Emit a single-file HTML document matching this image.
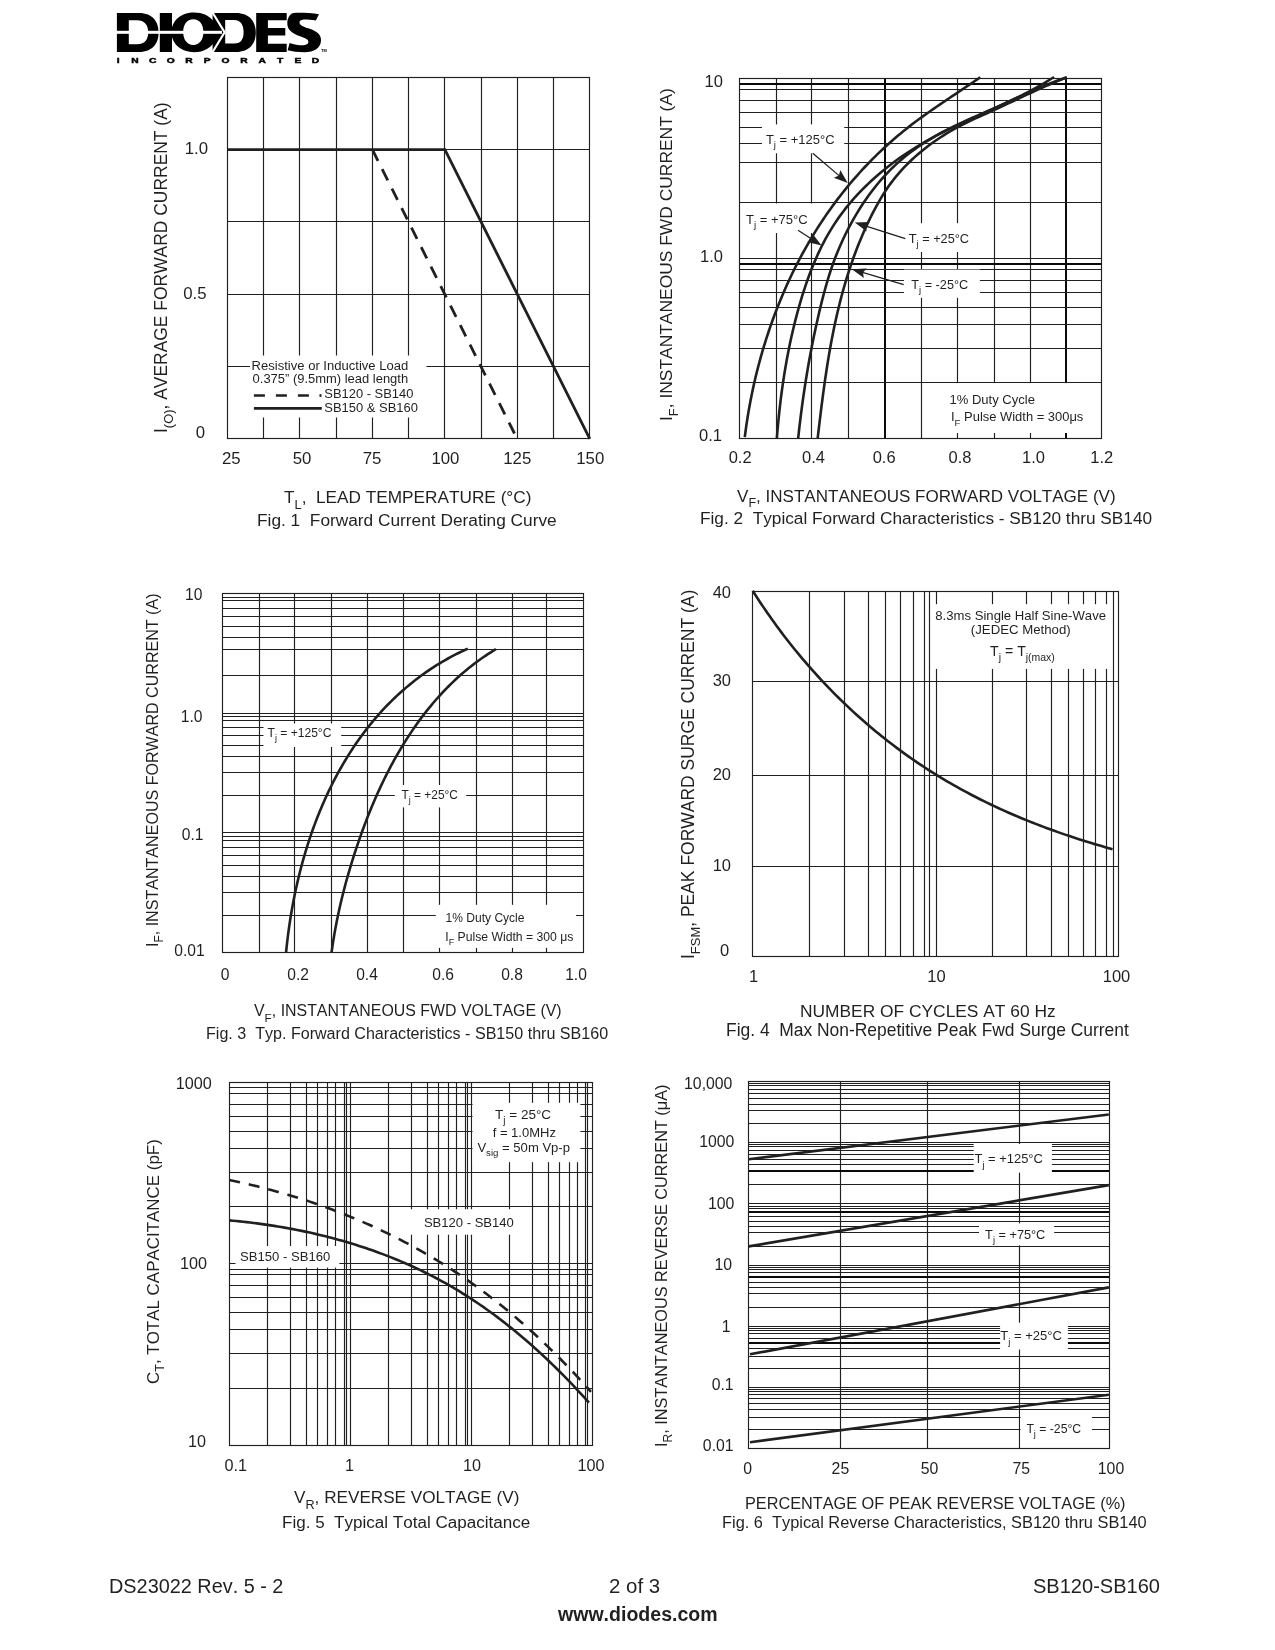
<!DOCTYPE html>
<html><head><meta charset="utf-8"><title>SB120-SB160</title>
<style>
html,body{margin:0;padding:0;background:#fff;}
body{width:1275px;height:1650px;overflow:hidden;}
svg{display:block;font-family:"Liberation Sans",sans-serif;font-kerning:none;} text{white-space:pre;} svg{filter:grayscale(1);}
</style></head><body>
<svg width="1275" height="1650" viewBox="0 0 1275 1650">
<g fill="#231f20" stroke="#231f20" stroke-linecap="butt">
<path fill="#000" fill-rule="evenodd" stroke="none" d="M116.9,13 H139 C153,13 158.6,22 158.6,32.5 C158.6,43 153,52 139,52 H116.9 Z M128.8,20.3 H137 C145.5,20.3 148.2,26 148.2,32.3 C148.2,38.8 145.5,44.3 137,44.3 H128.8 Z"/>
<rect x="159.8" y="13" width="12.2" height="39" fill="#000" stroke="none"/>
<path fill="#000" fill-rule="evenodd" stroke="none" d="M194,12.6 C182,12.6 171.5,20 171.5,32.3 C171.5,44.6 182,52.2 194,52.2 C203,52.2 208,49 212,45 L224,32.3 L212,19.5 C208,15.5 203,12.6 194,12.6 Z M193.3,19.3 C187,19.3 183.2,24.5 183.2,32.1 C183.2,39.8 187,45 193.3,45 C199.6,45 203.4,39.8 203.4,32.1 C203.4,24.5 199.6,19.3 193.3,19.3 Z"/>
<path fill="#000" fill-rule="evenodd" stroke="none" d="M212.6,13 H236 C250,13 255.8,22 255.8,32.5 C255.8,43 250,52 236,52 H212.6 Z M225.2,20 H234 C241.5,20 243.6,26 243.6,32.3 C243.6,38.6 241.5,43.6 234,43.6 H225.2 Z"/>
<path fill="#000" stroke="none" d="M256.2,13 H286.7 V20.2 H267.9 V28 H285.3 V35.6 H267.9 V43.8 H286.7 V52 H256.2 Z"/>
<path fill="#000" stroke="none" d="M294,12.9 C300,12.6 312,13 319,14.3 L315.8,20.6 C310,19.6 305,19.4 302.5,19.7 C300,20 299.2,21.5 299.6,23.2 C300.2,25.4 303,26.4 309,28.6 C317,31.5 321.2,34.5 321,40.5 C320.8,48 314,52.2 304.5,52.2 C298,52.2 292,51.4 287.6,50.2 L289.6,43 C294,44.4 299,45.4 303.5,45.3 C307,45.2 308.6,43.6 308.4,41.6 C308.2,39.4 306,38.4 300,36.2 C292.5,33.5 287.3,30.2 287.3,23.5 C287.3,17 290.5,13.1 294,12.9 Z"/>
<rect x="116" y="30.8" width="106" height="3" fill="#fff" stroke="none"/>
<path d="M212.2,12 L224.6,32.3 L212.2,52.8" fill="none" stroke="#fff" stroke-width="2.2"/>
<line x1="263.5" y1="77.4" x2="263.5" y2="438.8" stroke-width="1.15"/>
<line x1="299.5" y1="77.4" x2="299.5" y2="438.8" stroke-width="1.15"/>
<line x1="336.5" y1="77.4" x2="336.5" y2="438.8" stroke-width="1.15"/>
<line x1="372.5" y1="77.4" x2="372.5" y2="438.8" stroke-width="1.15"/>
<line x1="408.5" y1="77.4" x2="408.5" y2="438.8" stroke-width="1.15"/>
<line x1="444.5" y1="77.4" x2="444.5" y2="438.8" stroke-width="1.15"/>
<line x1="481.5" y1="77.4" x2="481.5" y2="438.8" stroke-width="1.15"/>
<line x1="517.5" y1="77.4" x2="517.5" y2="438.8" stroke-width="1.15"/>
<line x1="553.5" y1="77.4" x2="553.5" y2="438.8" stroke-width="1.15"/>
<line x1="227.5" y1="149.5" x2="589.8" y2="149.5" stroke-width="1.15"/>
<line x1="227.5" y1="221.5" x2="589.8" y2="221.5" stroke-width="1.15"/>
<line x1="227.5" y1="294.5" x2="589.8" y2="294.5" stroke-width="1.15"/>
<line x1="227.5" y1="366.5" x2="589.8" y2="366.5" stroke-width="1.15"/>
<rect x="250" y="355.5" width="176.4" height="62" fill="#fff" stroke="none"/>
<rect x="227.5" y="77.5" width="362" height="361" fill="none" stroke-width="1.15"/>
<path d="M227.5,149.7 L444.9,149.7 L589.8,438.8" fill="none" stroke-width="2.8"/>
<path d="M372.4,149.7 L514.5,433.5" fill="none" stroke-width="2.8" stroke-dasharray="12.5,9.3"/>
<path d="M253.9,395.5 L320.5,395.5" fill="none" stroke-width="2.5" stroke-dasharray="11,11"/>
<path d="M319.5,395.5 L321.5,395.5" fill="none" stroke-width="2.5"/>
<path d="M253.9,408.4 L321.8,408.4" fill="none" stroke-width="2.8"/>
<line x1="776.5" y1="78" x2="776.5" y2="438" stroke-width="1.15"/>
<line x1="811.5" y1="78" x2="811.5" y2="438" stroke-width="1.15"/>
<line x1="848.5" y1="78" x2="848.5" y2="438" stroke-width="1.15"/>
<line x1="885" y1="78" x2="885" y2="438" stroke-width="2.0" stroke="#0c0a0b"/>
<line x1="921.5" y1="78" x2="921.5" y2="438" stroke-width="1.15"/>
<line x1="957.5" y1="78" x2="957.5" y2="438" stroke-width="1.15"/>
<line x1="994.5" y1="78" x2="994.5" y2="438" stroke-width="1.15"/>
<line x1="1030.5" y1="78" x2="1030.5" y2="438" stroke-width="1.15"/>
<line x1="1066" y1="78" x2="1066" y2="438" stroke-width="2.0" stroke="#0c0a0b"/>
<line x1="739.5" y1="84" x2="1101.4" y2="84" stroke-width="1.9" stroke="#0c0a0b"/>
<line x1="739.5" y1="89.5" x2="1101.4" y2="89.5" stroke-width="1.15"/>
<line x1="739.5" y1="100.5" x2="1101.4" y2="100.5" stroke-width="1.15"/>
<line x1="739.5" y1="112.5" x2="1101.4" y2="112.5" stroke-width="1.15"/>
<line x1="739.5" y1="127.5" x2="1101.4" y2="127.5" stroke-width="1.15"/>
<line x1="739.5" y1="143.5" x2="1101.4" y2="143.5" stroke-width="1.15"/>
<line x1="739.5" y1="162.5" x2="1101.4" y2="162.5" stroke-width="1.15"/>
<line x1="739.5" y1="202.5" x2="1101.4" y2="202.5" stroke-width="1.15"/>
<line x1="739.5" y1="258.5" x2="1101.4" y2="258.5" stroke-width="1.15"/>
<line x1="739.5" y1="264" x2="1101.4" y2="264" stroke-width="1.9" stroke="#0c0a0b"/>
<line x1="739.5" y1="269.5" x2="1101.4" y2="269.5" stroke-width="1.15"/>
<line x1="739.5" y1="280.5" x2="1101.4" y2="280.5" stroke-width="1.15"/>
<line x1="739.5" y1="292.5" x2="1101.4" y2="292.5" stroke-width="1.15"/>
<line x1="739.5" y1="307.5" x2="1101.4" y2="307.5" stroke-width="1.15"/>
<line x1="739.5" y1="324.5" x2="1101.4" y2="324.5" stroke-width="1.15"/>
<line x1="739.5" y1="348.5" x2="1101.4" y2="348.5" stroke-width="1.15"/>
<line x1="739.5" y1="382.5" x2="1101.4" y2="382.5" stroke-width="1.15"/>
<rect x="762" y="124.4" width="82.2" height="28.9" fill="#fff" stroke="none"/>
<rect x="741" y="203.5" width="74" height="29.5" fill="#fff" stroke="none"/>
<rect x="912" y="223.2" width="63" height="28.8" fill="#fff" stroke="none"/>
<rect x="904" y="269.6" width="75.9" height="28.2" fill="#fff" stroke="none"/>
<rect x="925" y="383.1" width="170" height="49.9" fill="#fff" stroke="none"/>
<rect x="739.5" y="78.5" width="362" height="360" fill="none" stroke-width="1.15"/>
<path d="M744.8,437.06 L745.27,433.39 L745.76,429.71 L746.27,426.04 L746.81,422.36 L747.38,418.68 L747.97,415.01 L748.59,411.33 L749.23,407.66 L749.9,403.98 L750.6,400.31 L751.32,396.64 L752.06,392.97 L752.84,389.3 L753.64,385.64 L754.46,381.98 L755.31,378.32 L756.19,374.67 L757.09,371.02 L758.02,367.37 L758.98,363.73 L759.96,360.1 L760.96,356.47 L762,352.85 L763.06,349.23 L764.14,345.62 L765.26,342.02 L766.39,338.42 L767.56,334.83 L768.75,331.25 L769.97,327.68 L771.21,324.11 L772.48,320.56 L773.78,317.01 L775.1,313.48 L776.45,309.95 L777.83,306.43 L779.23,302.93 L780.66,299.43 L782.11,295.95 L783.59,292.48 L785.1,289.02 L786.64,285.57 L788.2,282.14 L789.79,278.72 L791.4,275.31 L793.04,271.91 L794.71,268.53 L796.41,265.17 L798.13,261.81 L799.88,258.48 L801.65,255.16 L803.46,251.85 L805.29,248.56 L807.14,245.29 L809.02,242.03 L810.93,238.79 L812.87,235.57 L814.83,232.37 L816.83,229.18 L818.84,226.01 L820.89,222.86 L822.96,219.73 L825.06,216.62 L827.18,213.53 L829.34,210.46 L831.52,207.41 L833.72,204.38 L835.96,201.37 L838.22,198.39 L840.51,195.42 L842.82,192.48 L845.17,189.56 L847.54,186.66 L849.93,183.78 L852.35,180.93 L854.8,178.1 L857.28,175.29 L859.78,172.5 L862.31,169.74 L864.86,167.01 L867.44,164.29 L870.04,161.61 L872.67,158.94 L875.33,156.3 L878.01,153.69 L880.72,151.1 L883.45,148.53 L886.21,146 L888.99,143.48 L891.8,141 L894.63,138.54 L897.48,136.1 L900.37,133.7 L903.27,131.32 L906.2,128.96 L909.15,126.64 L912.13,124.34 L915.13,122.06 L918.15,119.81 L921.19,117.59 L924.25,115.38 L927.32,113.19 L930.41,111.02 L933.5,108.87 L936.61,106.72 L939.73,104.59 L942.85,102.47 L945.98,100.36 L949.12,98.26 L952.25,96.16 L955.39,94.07 L958.53,91.97 L961.66,89.88 L964.79,87.79 L967.91,85.69 L971.02,83.59 L974.13,81.48 L977.22,79.37 L980.3,77.24" fill="none" stroke-width="2.6"/>
<path d="M776.87,438.11 L777.2,434.01 L777.55,429.9 L777.91,425.8 L778.3,421.7 L778.7,417.6 L779.13,413.5 L779.57,409.4 L780.04,405.3 L780.52,401.2 L781.03,397.1 L781.57,393.01 L782.12,388.91 L782.7,384.82 L783.3,380.74 L783.93,376.65 L784.58,372.57 L785.25,368.49 L785.96,364.42 L786.68,360.35 L787.44,356.28 L788.22,352.22 L789.02,348.16 L789.86,344.11 L790.72,340.06 L791.62,336.02 L792.54,331.98 L793.49,327.95 L794.47,323.92 L795.48,319.9 L796.52,315.89 L797.59,311.89 L798.69,307.89 L799.83,303.9 L801,299.92 L802.2,295.95 L803.45,291.99 L804.73,288.04 L806.05,284.11 L807.41,280.2 L808.81,276.3 L810.26,272.43 L811.76,268.58 L813.31,264.75 L814.91,260.94 L816.56,257.16 L818.26,253.41 L820.02,249.69 L821.83,246 L823.71,242.34 L825.64,238.72 L827.64,235.13 L829.7,231.58 L831.83,228.08 L834.02,224.61 L836.29,221.18 L838.62,217.8 L841.02,214.46 L843.49,211.17 L846.02,207.92 L848.62,204.72 L851.27,201.56 L853.99,198.45 L856.76,195.38 L859.59,192.36 L862.47,189.39 L865.4,186.46 L868.39,183.58 L871.42,180.75 L874.49,177.96 L877.61,175.23 L880.77,172.54 L883.98,169.9 L887.22,167.3 L890.49,164.76 L893.8,162.27 L897.15,159.82 L900.52,157.42 L903.93,155.07 L907.36,152.77 L910.82,150.51 L914.31,148.3 L917.83,146.13 L921.37,144 L924.93,141.91 L928.52,139.86 L932.12,137.84 L935.75,135.87 L939.4,133.92 L943.06,132.02 L946.74,130.14 L950.44,128.3 L954.15,126.49 L957.87,124.71 L961.61,122.95 L965.35,121.21 L969.11,119.49 L972.87,117.79 L976.63,116.09 L980.4,114.41 L984.17,112.73 L987.94,111.04 L991.71,109.36 L995.48,107.67 L999.24,105.97 L1003,104.26 L1006.75,102.53 L1010.48,100.78 L1014.21,99.01 L1017.93,97.22 L1021.63,95.39 L1025.32,93.53 L1028.98,91.63 L1032.63,89.69 L1036.26,87.71 L1039.87,85.68 L1043.46,83.6 L1047.02,81.46 L1050.55,79.27 L1054.05,77.01" fill="none" stroke-width="2.6"/>
<path d="M798.19,438.16 L798.63,434.08 L799.08,430 L799.55,425.91 L800.04,421.83 L800.54,417.75 L801.05,413.68 L801.58,409.6 L802.12,405.52 L802.68,401.44 L803.26,397.37 L803.85,393.3 L804.45,389.23 L805.07,385.16 L805.71,381.09 L806.37,377.02 L807.04,372.96 L807.73,368.9 L808.43,364.84 L809.15,360.79 L809.89,356.74 L810.64,352.69 L811.42,348.64 L812.21,344.6 L813.02,340.57 L813.84,336.53 L814.69,332.5 L815.55,328.47 L816.43,324.45 L817.33,320.43 L818.24,316.42 L819.18,312.41 L820.14,308.41 L821.11,304.41 L822.11,300.42 L823.13,296.43 L824.18,292.46 L825.26,288.49 L826.37,284.54 L827.52,280.6 L828.72,276.67 L829.95,272.76 L831.24,268.87 L832.57,264.99 L833.96,261.14 L835.41,257.31 L836.9,253.49 L838.46,249.7 L840.07,245.93 L841.73,242.19 L843.45,238.46 L845.22,234.76 L847.05,231.08 L848.94,227.43 L850.88,223.8 L852.88,220.19 L854.93,216.61 L857.03,213.05 L859.2,209.53 L861.42,206.04 L863.69,202.58 L866.03,199.17 L868.41,195.79 L870.86,192.46 L873.37,189.18 L875.93,185.94 L878.55,182.75 L881.22,179.62 L883.96,176.55 L886.75,173.53 L889.61,170.58 L892.52,167.69 L895.49,164.87 L898.52,162.12 L901.61,159.44 L904.75,156.84 L907.95,154.29 L911.21,151.82 L914.51,149.41 L917.86,147.06 L921.26,144.78 L924.7,142.55 L928.17,140.38 L931.69,138.27 L935.25,136.21 L938.83,134.2 L942.45,132.24 L946.1,130.32 L949.77,128.46 L953.47,126.64 L957.19,124.86 L960.93,123.11 L964.68,121.39 L968.45,119.7 L972.23,118.03 L976.01,116.37 L979.8,114.72 L983.58,113.07 L987.37,111.41 L991.15,109.75 L994.91,108.07 L998.67,106.38 L1002.42,104.67 L1006.16,102.96 L1009.9,101.23 L1013.64,99.51 L1017.37,97.78 L1021.11,96.07 L1024.84,94.36 L1028.59,92.66 L1032.33,90.99 L1036.09,89.33 L1039.86,87.7 L1043.64,86.1 L1047.44,84.54 L1051.25,83.01 L1055.09,81.52 L1058.94,80.07 L1062.82,78.68 L1066.72,77.34" fill="none" stroke-width="2.6"/>
<path d="M817.67,438.15 L818.14,434.2 L818.6,430.24 L819.07,426.27 L819.55,422.31 L820.03,418.34 L820.51,414.38 L821,410.41 L821.5,406.44 L822.01,402.47 L822.52,398.5 L823.04,394.53 L823.58,390.56 L824.13,386.59 L824.68,382.62 L825.25,378.65 L825.84,374.69 L826.43,370.73 L827.05,366.76 L827.68,362.81 L828.32,358.85 L828.98,354.9 L829.66,350.95 L830.36,347.01 L831.08,343.06 L831.82,339.13 L832.58,335.2 L833.37,331.27 L834.17,327.35 L835,323.43 L835.85,319.52 L836.73,315.62 L837.64,311.72 L838.57,307.83 L839.53,303.95 L840.51,300.07 L841.53,296.21 L842.57,292.35 L843.65,288.49 L844.75,284.65 L845.89,280.82 L847.05,277 L848.25,273.19 L849.49,269.38 L850.75,265.59 L852.05,261.81 L853.38,258.05 L854.75,254.29 L856.16,250.55 L857.6,246.82 L859.07,243.1 L860.59,239.39 L862.14,235.7 L863.73,232.03 L865.36,228.37 L867.03,224.72 L868.74,221.09 L870.49,217.48 L872.28,213.89 L874.12,210.32 L876.01,206.77 L877.96,203.27 L879.96,199.79 L882.01,196.36 L884.13,192.98 L886.31,189.64 L888.57,186.36 L890.89,183.13 L893.28,179.97 L895.75,176.86 L898.29,173.82 L900.9,170.85 L903.58,167.93 L906.34,165.08 L909.15,162.28 L912.03,159.55 L914.96,156.86 L917.95,154.24 L921,151.67 L924.09,149.16 L927.24,146.71 L930.43,144.31 L933.67,141.97 L936.95,139.7 L940.28,137.48 L943.65,135.32 L947.06,133.22 L950.5,131.18 L953.98,129.2 L957.5,127.28 L961.04,125.42 L964.62,123.61 L968.21,121.85 L971.83,120.13 L975.46,118.43 L979.11,116.76 L982.76,115.11 L986.41,113.46 L990.07,111.81 L993.72,110.16 L997.36,108.49 L1001,106.81 L1004.63,105.11 L1008.25,103.41 L1011.87,101.71 L1015.49,100 L1019.11,98.29 L1022.73,96.58 L1026.35,94.89 L1029.98,93.2 L1033.61,91.52 L1037.25,89.86 L1040.89,88.22 L1044.55,86.6 L1048.22,85 L1051.9,83.43 L1055.6,81.89 L1059.31,80.38 L1063.04,78.91 L1066.79,77.48" fill="none" stroke-width="2.6"/>
<line x1="812.8" y1="153.3" x2="839.32" y2="175.87" stroke-width="1.3"/>
<path d="M847.7,183 L833.8,177.73 L838.94,175.55 L840.28,170.12 Z" fill="#231f20" stroke="none"/>
<line x1="798" y1="230.2" x2="812.37" y2="239.52" stroke-width="1.3"/>
<path d="M821.6,245.5 L807.13,242.08 L811.95,239.24 L812.57,233.69 Z" fill="#231f20" stroke="none"/>
<line x1="905.3" y1="238.6" x2="865.28" y2="225.84" stroke-width="1.3"/>
<path d="M854.8,222.5 L869.66,221.99 L865.76,225.99 L866.62,231.52 Z" fill="#231f20" stroke="none"/>
<line x1="903.7" y1="284.7" x2="862.44" y2="272.35" stroke-width="1.3"/>
<path d="M851.9,269.2 L866.75,268.42 L862.92,272.5 L863.88,278 Z" fill="#231f20" stroke="none"/>
<line x1="259.5" y1="593.3" x2="259.5" y2="952.2" stroke-width="1.15"/>
<line x1="294.5" y1="593.3" x2="294.5" y2="952.2" stroke-width="1.15"/>
<line x1="331.5" y1="593.3" x2="331.5" y2="952.2" stroke-width="1.15"/>
<line x1="367.5" y1="593.3" x2="367.5" y2="952.2" stroke-width="1.15"/>
<line x1="403.5" y1="593.3" x2="403.5" y2="952.2" stroke-width="1.15"/>
<line x1="439.5" y1="593.3" x2="439.5" y2="952.2" stroke-width="1.15"/>
<line x1="476.5" y1="593.3" x2="476.5" y2="952.2" stroke-width="1.15"/>
<line x1="512.5" y1="593.3" x2="512.5" y2="952.2" stroke-width="1.15"/>
<line x1="546.5" y1="593.3" x2="546.5" y2="952.2" stroke-width="1.15"/>
<line x1="222.7" y1="597.5" x2="583.9" y2="597.5" stroke-width="1.15"/>
<line x1="222.7" y1="600.5" x2="583.9" y2="600.5" stroke-width="1.15"/>
<line x1="222.7" y1="608.5" x2="583.9" y2="608.5" stroke-width="1.15"/>
<line x1="222.7" y1="616.5" x2="583.9" y2="616.5" stroke-width="1.15"/>
<line x1="222.7" y1="626.5" x2="583.9" y2="626.5" stroke-width="1.15"/>
<line x1="222.7" y1="637.5" x2="583.9" y2="637.5" stroke-width="1.15"/>
<line x1="222.7" y1="649.5" x2="583.9" y2="649.5" stroke-width="1.15"/>
<line x1="222.7" y1="675.5" x2="583.9" y2="675.5" stroke-width="1.15"/>
<line x1="222.7" y1="713.5" x2="583.9" y2="713.5" stroke-width="1.15"/>
<line x1="222.7" y1="716.5" x2="583.9" y2="716.5" stroke-width="1.15"/>
<line x1="222.7" y1="720.5" x2="583.9" y2="720.5" stroke-width="1.15"/>
<line x1="222.7" y1="727.5" x2="583.9" y2="727.5" stroke-width="1.15"/>
<line x1="222.7" y1="735.5" x2="583.9" y2="735.5" stroke-width="1.15"/>
<line x1="222.7" y1="745.5" x2="583.9" y2="745.5" stroke-width="1.15"/>
<line x1="222.7" y1="756.5" x2="583.9" y2="756.5" stroke-width="1.15"/>
<line x1="222.7" y1="772.5" x2="583.9" y2="772.5" stroke-width="1.15"/>
<line x1="222.7" y1="795.5" x2="583.9" y2="795.5" stroke-width="1.15"/>
<line x1="222.7" y1="832.5" x2="583.9" y2="832.5" stroke-width="1.15"/>
<line x1="222.7" y1="836.5" x2="583.9" y2="836.5" stroke-width="1.15"/>
<line x1="222.7" y1="840.5" x2="583.9" y2="840.5" stroke-width="1.15"/>
<line x1="222.7" y1="847.5" x2="583.9" y2="847.5" stroke-width="1.15"/>
<line x1="222.7" y1="855.5" x2="583.9" y2="855.5" stroke-width="1.15"/>
<line x1="222.7" y1="865.5" x2="583.9" y2="865.5" stroke-width="1.15"/>
<line x1="222.7" y1="876.5" x2="583.9" y2="876.5" stroke-width="1.15"/>
<line x1="222.7" y1="892.5" x2="583.9" y2="892.5" stroke-width="1.15"/>
<line x1="222.7" y1="915.5" x2="583.9" y2="915.5" stroke-width="1.15"/>
<rect x="263.5" y="723.5" width="77.7" height="23.5" fill="#fff" stroke="none"/>
<rect x="394.8" y="785" width="71.4" height="22.4" fill="#fff" stroke="none"/>
<rect x="435.8" y="904.8" width="140.2" height="43.1" fill="#fff" stroke="none"/>
<rect x="222.5" y="593.5" width="361" height="359" fill="none" stroke-width="1.15"/>
<path d="M286.09,952.28 L286.39,949.25 L286.71,946.22 L287.05,943.18 L287.4,940.15 L287.77,937.1 L288.15,934.06 L288.56,931.01 L288.98,927.96 L289.42,924.9 L289.87,921.85 L290.35,918.79 L290.84,915.74 L291.35,912.68 L291.88,909.62 L292.42,906.56 L292.99,903.51 L293.57,900.45 L294.17,897.39 L294.79,894.34 L295.43,891.28 L296.09,888.23 L296.77,885.18 L297.46,882.13 L298.18,879.09 L298.91,876.04 L299.66,873.01 L300.44,869.97 L301.23,866.94 L302.04,863.91 L302.87,860.89 L303.72,857.87 L304.6,854.86 L305.49,851.86 L306.4,848.86 L307.33,845.86 L308.28,842.87 L309.25,839.89 L310.25,836.92 L311.26,833.95 L312.3,830.99 L313.35,828.04 L314.43,825.1 L315.52,822.17 L316.64,819.24 L317.78,816.33 L318.94,813.42 L320.12,810.53 L321.33,807.64 L322.55,804.77 L323.8,801.9 L325.07,799.05 L326.36,796.21 L327.67,793.38 L329,790.56 L330.36,787.76 L331.74,784.96 L333.14,782.19 L334.56,779.42 L336.01,776.67 L337.48,773.93 L338.97,771.21 L340.49,768.5 L342.02,765.81 L343.59,763.13 L345.17,760.47 L346.78,757.82 L348.41,755.19 L350.06,752.58 L351.74,749.98 L353.44,747.4 L355.17,744.84 L356.92,742.29 L358.69,739.77 L360.49,737.26 L362.31,734.77 L364.15,732.3 L366.02,729.85 L367.92,727.42 L369.84,725.01 L371.78,722.62 L373.75,720.25 L375.74,717.9 L377.76,715.57 L379.81,713.26 L381.88,710.98 L383.97,708.72 L386.09,706.48 L388.23,704.26 L390.41,702.07 L392.6,699.9 L394.82,697.75 L397.07,695.63 L399.35,693.54 L401.65,691.46 L403.97,689.42 L406.32,687.39 L408.7,685.4 L411.11,683.43 L413.54,681.48 L416,679.56 L418.48,677.67 L421,675.81 L423.54,673.98 L426.1,672.17 L428.7,670.39 L431.32,668.64 L433.96,666.92 L436.64,665.22 L439.34,663.56 L442.07,661.92 L444.83,660.32 L447.62,658.75 L450.43,657.21 L453.28,655.69 L456.15,654.21 L459.05,652.77 L461.97,651.35 L464.93,649.97 L467.91,648.61" fill="none" stroke-width="2.6"/>
<path d="M331.57,952.43 L331.98,949.47 L332.4,946.52 L332.85,943.57 L333.31,940.63 L333.79,937.68 L334.28,934.74 L334.8,931.8 L335.33,928.86 L335.87,925.93 L336.44,923 L337.02,920.07 L337.61,917.14 L338.23,914.22 L338.86,911.3 L339.5,908.38 L340.16,905.47 L340.84,902.56 L341.53,899.65 L342.24,896.75 L342.96,893.85 L343.69,890.95 L344.44,888.06 L345.21,885.17 L345.99,882.28 L346.78,879.4 L347.59,876.52 L348.42,873.65 L349.25,870.78 L350.1,867.91 L350.96,865.05 L351.84,862.19 L352.73,859.33 L353.63,856.48 L354.54,853.64 L355.47,850.8 L356.41,847.96 L357.36,845.13 L358.33,842.3 L359.3,839.48 L360.29,836.66 L361.29,833.84 L362.31,831.03 L363.34,828.23 L364.38,825.43 L365.44,822.64 L366.51,819.85 L367.59,817.07 L368.69,814.3 L369.81,811.53 L370.94,808.76 L372.08,806.01 L373.24,803.25 L374.42,800.51 L375.61,797.77 L376.82,795.04 L378.04,792.32 L379.29,789.6 L380.54,786.89 L381.82,784.18 L383.11,781.49 L384.42,778.8 L385.75,776.12 L387.1,773.45 L388.47,770.78 L389.85,768.13 L391.25,765.48 L392.67,762.85 L394.11,760.22 L395.57,757.6 L397.04,755 L398.54,752.4 L400.06,749.82 L401.59,747.25 L403.15,744.69 L404.72,742.15 L406.32,739.62 L407.93,737.1 L409.57,734.59 L411.22,732.1 L412.9,729.63 L414.6,727.17 L416.31,724.73 L418.05,722.3 L419.81,719.89 L421.59,717.5 L423.4,715.12 L425.22,712.76 L427.07,710.42 L428.94,708.1 L430.83,705.8 L432.74,703.51 L434.67,701.25 L436.63,699 L438.61,696.78 L440.62,694.58 L442.64,692.4 L444.69,690.24 L446.76,688.11 L448.86,685.99 L450.98,683.9 L453.12,681.83 L455.29,679.79 L457.48,677.77 L459.7,675.78 L461.94,673.81 L464.2,671.87 L466.49,669.95 L468.81,668.06 L471.15,666.19 L473.51,664.36 L475.9,662.55 L478.32,660.77 L480.76,659.01 L483.22,657.29 L485.72,655.59 L488.23,653.93 L490.78,652.29 L493.35,650.69 L495.95,649.11" fill="none" stroke-width="2.6"/>
<line x1="809.5" y1="591" x2="809.5" y2="956.3" stroke-width="1.15"/>
<line x1="844.5" y1="591" x2="844.5" y2="956.3" stroke-width="1.15"/>
<line x1="868.5" y1="591" x2="868.5" y2="956.3" stroke-width="1.15"/>
<line x1="885.5" y1="591" x2="885.5" y2="956.3" stroke-width="1.15"/>
<line x1="900.5" y1="591" x2="900.5" y2="956.3" stroke-width="1.15"/>
<line x1="913.5" y1="591" x2="913.5" y2="956.3" stroke-width="1.15"/>
<line x1="924.5" y1="591" x2="924.5" y2="956.3" stroke-width="1.15"/>
<line x1="929.5" y1="591" x2="929.5" y2="956.3" stroke-width="1.15"/>
<line x1="936.5" y1="591" x2="936.5" y2="956.3" stroke-width="1.15"/>
<line x1="992.5" y1="591" x2="992.5" y2="956.3" stroke-width="1.15"/>
<line x1="1026.5" y1="591" x2="1026.5" y2="956.3" stroke-width="1.15"/>
<line x1="1051.5" y1="591" x2="1051.5" y2="956.3" stroke-width="1.15"/>
<line x1="1068.5" y1="591" x2="1068.5" y2="956.3" stroke-width="1.15"/>
<line x1="1083.5" y1="591" x2="1083.5" y2="956.3" stroke-width="1.15"/>
<line x1="1095.5" y1="591" x2="1095.5" y2="956.3" stroke-width="1.15"/>
<line x1="1106.5" y1="591" x2="1106.5" y2="956.3" stroke-width="1.15"/>
<line x1="1113.5" y1="591" x2="1113.5" y2="956.3" stroke-width="1.15"/>
<line x1="752.3" y1="681.5" x2="1118.2" y2="681.5" stroke-width="1.15"/>
<line x1="752.3" y1="775.5" x2="1118.2" y2="775.5" stroke-width="1.15"/>
<line x1="752.3" y1="866.5" x2="1118.2" y2="866.5" stroke-width="1.15"/>
<rect x="933" y="604.2" width="177" height="64.7" fill="#fff" stroke="none"/>
<rect x="752.5" y="591.5" width="366" height="365" fill="none" stroke-width="1.15"/>
<path d="M752.72,590.81 L754.78,594.05 L756.86,597.28 L758.97,600.49 L761.09,603.69 L763.23,606.88 L765.39,610.05 L767.57,613.21 L769.77,616.36 L771.99,619.49 L774.22,622.6 L776.48,625.7 L778.75,628.79 L781.05,631.86 L783.36,634.91 L785.69,637.95 L788.04,640.98 L790.4,643.98 L792.79,646.98 L795.19,649.95 L797.62,652.91 L800.06,655.86 L802.52,658.79 L804.99,661.7 L807.49,664.59 L810,667.47 L812.53,670.33 L815.08,673.18 L817.65,676 L820.23,678.81 L822.83,681.6 L825.45,684.38 L828.08,687.14 L830.74,689.88 L833.41,692.6 L836.1,695.3 L838.8,697.99 L841.52,700.65 L844.26,703.3 L847.02,705.93 L849.79,708.54 L852.58,711.13 L855.39,713.7 L858.21,716.26 L861.05,718.79 L863.91,721.3 L866.78,723.8 L869.67,726.27 L872.58,728.73 L875.5,731.16 L878.44,733.58 L881.39,735.97 L884.36,738.35 L887.35,740.7 L890.35,743.03 L893.37,745.34 L896.4,747.64 L899.45,749.9 L902.51,752.15 L905.59,754.38 L908.69,756.58 L911.8,758.77 L914.93,760.93 L918.07,763.07 L921.23,765.19 L924.4,767.28 L927.59,769.36 L930.79,771.41 L934.01,773.43 L937.24,775.44 L940.49,777.42 L943.75,779.38 L947.02,781.32 L950.31,783.23 L953.62,785.12 L956.93,786.99 L960.26,788.84 L963.61,790.67 L966.96,792.47 L970.33,794.25 L973.71,796.01 L977.11,797.75 L980.51,799.47 L983.93,801.16 L987.35,802.84 L990.79,804.49 L994.24,806.13 L997.7,807.74 L1001.17,809.33 L1004.65,810.9 L1008.15,812.46 L1011.65,813.99 L1015.15,815.5 L1018.67,816.99 L1022.2,818.46 L1025.74,819.91 L1029.28,821.34 L1032.83,822.76 L1036.4,824.15 L1039.96,825.53 L1043.54,826.88 L1047.12,828.22 L1050.71,829.53 L1054.31,830.83 L1057.91,832.11 L1061.52,833.38 L1065.13,834.62 L1068.76,835.84 L1072.38,837.05 L1076.01,838.24 L1079.65,839.41 L1083.29,840.57 L1086.94,841.7 L1090.58,842.82 L1094.24,843.92 L1097.9,845.01 L1101.56,846.08 L1105.22,847.13 L1108.89,848.16 L1112.56,849.18" fill="none" stroke-width="2.6"/>
<line x1="267.5" y1="1082" x2="267.5" y2="1445.5" stroke-width="1.15"/>
<line x1="290.5" y1="1082" x2="290.5" y2="1445.5" stroke-width="1.15"/>
<line x1="306.5" y1="1082" x2="306.5" y2="1445.5" stroke-width="1.15"/>
<line x1="317.5" y1="1082" x2="317.5" y2="1445.5" stroke-width="1.15"/>
<line x1="327.5" y1="1082" x2="327.5" y2="1445.5" stroke-width="1.15"/>
<line x1="335.5" y1="1082" x2="335.5" y2="1445.5" stroke-width="1.15"/>
<line x1="344.5" y1="1082" x2="344.5" y2="1445.5" stroke-width="1.15"/>
<line x1="346.5" y1="1082" x2="346.5" y2="1445.5" stroke-width="1.15"/>
<line x1="350.5" y1="1082" x2="350.5" y2="1445.5" stroke-width="1.15"/>
<line x1="388.5" y1="1082" x2="388.5" y2="1445.5" stroke-width="1.15"/>
<line x1="411.5" y1="1082" x2="411.5" y2="1445.5" stroke-width="1.15"/>
<line x1="427.5" y1="1082" x2="427.5" y2="1445.5" stroke-width="1.15"/>
<line x1="438.5" y1="1082" x2="438.5" y2="1445.5" stroke-width="1.15"/>
<line x1="448.5" y1="1082" x2="448.5" y2="1445.5" stroke-width="1.15"/>
<line x1="456.5" y1="1082" x2="456.5" y2="1445.5" stroke-width="1.15"/>
<line x1="465.5" y1="1082" x2="465.5" y2="1445.5" stroke-width="1.15"/>
<line x1="467.5" y1="1082" x2="467.5" y2="1445.5" stroke-width="1.15"/>
<line x1="471.5" y1="1082" x2="471.5" y2="1445.5" stroke-width="1.15"/>
<line x1="509.5" y1="1082" x2="509.5" y2="1445.5" stroke-width="1.15"/>
<line x1="532.5" y1="1082" x2="532.5" y2="1445.5" stroke-width="1.15"/>
<line x1="548.5" y1="1082" x2="548.5" y2="1445.5" stroke-width="1.15"/>
<line x1="559.5" y1="1082" x2="559.5" y2="1445.5" stroke-width="1.15"/>
<line x1="569.5" y1="1082" x2="569.5" y2="1445.5" stroke-width="1.15"/>
<line x1="577.5" y1="1082" x2="577.5" y2="1445.5" stroke-width="1.15"/>
<line x1="585.5" y1="1082" x2="585.5" y2="1445.5" stroke-width="1.15"/>
<line x1="587.5" y1="1082" x2="587.5" y2="1445.5" stroke-width="1.15"/>
<line x1="229.4" y1="1087.5" x2="592.4" y2="1087.5" stroke-width="1.15"/>
<line x1="229.4" y1="1093.5" x2="592.4" y2="1093.5" stroke-width="1.15"/>
<line x1="229.4" y1="1104.5" x2="592.4" y2="1104.5" stroke-width="1.15"/>
<line x1="229.4" y1="1116.5" x2="592.4" y2="1116.5" stroke-width="1.15"/>
<line x1="229.4" y1="1131.5" x2="592.4" y2="1131.5" stroke-width="1.15"/>
<line x1="229.4" y1="1148.5" x2="592.4" y2="1148.5" stroke-width="1.15"/>
<line x1="229.4" y1="1172.5" x2="592.4" y2="1172.5" stroke-width="1.15"/>
<line x1="229.4" y1="1206.5" x2="592.4" y2="1206.5" stroke-width="1.15"/>
<line x1="229.4" y1="1263.5" x2="592.4" y2="1263.5" stroke-width="1.15"/>
<line x1="229.4" y1="1269.5" x2="592.4" y2="1269.5" stroke-width="1.15"/>
<line x1="229.4" y1="1274.5" x2="592.4" y2="1274.5" stroke-width="1.15"/>
<line x1="229.4" y1="1285.5" x2="592.4" y2="1285.5" stroke-width="1.15"/>
<line x1="229.4" y1="1297.5" x2="592.4" y2="1297.5" stroke-width="1.15"/>
<line x1="229.4" y1="1312.5" x2="592.4" y2="1312.5" stroke-width="1.15"/>
<line x1="229.4" y1="1329.5" x2="592.4" y2="1329.5" stroke-width="1.15"/>
<line x1="229.4" y1="1353.5" x2="592.4" y2="1353.5" stroke-width="1.15"/>
<line x1="229.4" y1="1388.5" x2="592.4" y2="1388.5" stroke-width="1.15"/>
<rect x="472.5" y="1102.8" width="107.9" height="59.4" fill="#fff" stroke="none"/>
<rect x="409" y="1209.2" width="106.3" height="25.5" fill="#fff" stroke="none"/>
<rect x="235.5" y="1246" width="103.8" height="21.6" fill="#fff" stroke="none"/>
<rect x="229.5" y="1082.5" width="363" height="363" fill="none" stroke-width="1.15"/>
<path d="M229.31,1220.41 L232.77,1220.72 L236.24,1221.05 L239.7,1221.39 L243.16,1221.76 L246.62,1222.14 L250.08,1222.54 L253.54,1222.96 L256.99,1223.4 L260.45,1223.86 L263.9,1224.34 L267.36,1224.84 L270.81,1225.35 L274.25,1225.89 L277.7,1226.45 L281.14,1227.02 L284.58,1227.62 L288.02,1228.23 L291.45,1228.87 L294.88,1229.52 L298.3,1230.2 L301.72,1230.89 L305.14,1231.61 L308.55,1232.34 L311.96,1233.1 L315.37,1233.88 L318.76,1234.67 L322.16,1235.49 L325.54,1236.33 L328.92,1237.19 L332.3,1238.07 L335.67,1238.98 L339.03,1239.9 L342.39,1240.85 L345.74,1241.81 L349.08,1242.8 L352.42,1243.81 L355.74,1244.85 L359.06,1245.9 L362.38,1246.97 L365.68,1248.07 L368.98,1249.19 L372.27,1250.33 L375.54,1251.5 L378.81,1252.69 L382.08,1253.9 L385.33,1255.13 L388.57,1256.38 L391.8,1257.66 L395.02,1258.96 L398.24,1260.28 L401.44,1261.63 L404.63,1263 L407.81,1264.39 L410.98,1265.81 L414.14,1267.25 L417.28,1268.71 L420.42,1270.2 L423.54,1271.71 L426.65,1273.24 L429.75,1274.8 L432.84,1276.38 L435.91,1277.99 L438.97,1279.62 L442.02,1281.27 L445.05,1282.95 L448.07,1284.66 L451.08,1286.39 L454.07,1288.14 L457.05,1289.92 L460.02,1291.72 L462.97,1293.54 L465.91,1295.39 L468.83,1297.26 L471.74,1299.15 L474.64,1301.06 L477.52,1303 L480.39,1304.96 L483.25,1306.94 L486.09,1308.94 L488.92,1310.96 L491.73,1313 L494.53,1315.06 L497.32,1317.14 L500.1,1319.24 L502.86,1321.36 L505.61,1323.5 L508.34,1325.66 L511.06,1327.83 L513.77,1330.03 L516.47,1332.24 L519.15,1334.46 L521.82,1336.71 L524.47,1338.97 L527.11,1341.25 L529.74,1343.54 L532.36,1345.85 L534.96,1348.18 L537.55,1350.52 L540.13,1352.87 L542.69,1355.24 L545.24,1357.63 L547.78,1360.02 L550.3,1362.44 L552.81,1364.86 L555.31,1367.3 L557.8,1369.75 L560.27,1372.21 L562.73,1374.69 L565.17,1377.17 L567.61,1379.67 L570.03,1382.18 L572.44,1384.7 L574.83,1387.23 L577.21,1389.77 L579.58,1392.32 L581.94,1394.89 L584.28,1397.46 L586.62,1400.03 L588.94,1402.62" fill="none" stroke-width="2.6"/>
<path d="M229.22,1180.01 L232.74,1180.74 L236.25,1181.49 L239.77,1182.25 L243.27,1183.04 L246.78,1183.84 L250.28,1184.66 L253.77,1185.5 L257.27,1186.36 L260.75,1187.23 L264.24,1188.13 L267.71,1189.04 L271.19,1189.97 L274.65,1190.91 L278.12,1191.88 L281.57,1192.86 L285.03,1193.86 L288.47,1194.88 L291.91,1195.92 L295.35,1196.98 L298.78,1198.05 L302.2,1199.14 L305.62,1200.25 L309.03,1201.38 L312.43,1202.53 L315.83,1203.69 L319.22,1204.87 L322.61,1206.08 L325.99,1207.3 L329.36,1208.53 L332.72,1209.79 L336.08,1211.06 L339.43,1212.35 L342.77,1213.67 L346.11,1214.99 L349.43,1216.34 L352.75,1217.71 L356.06,1219.09 L359.37,1220.49 L362.66,1221.91 L365.95,1223.35 L369.22,1224.81 L372.49,1226.28 L375.75,1227.78 L379.01,1229.29 L382.25,1230.82 L385.48,1232.37 L388.71,1233.93 L391.92,1235.52 L395.13,1237.12 L398.32,1238.74 L401.51,1240.39 L404.69,1242.04 L407.85,1243.72 L411.01,1245.42 L414.16,1247.13 L417.29,1248.86 L420.42,1250.62 L423.53,1252.39 L426.64,1254.17 L429.73,1255.98 L432.81,1257.8 L435.89,1259.65 L438.95,1261.51 L441.99,1263.39 L445.03,1265.29 L448.06,1267.21 L451.07,1269.14 L454.08,1271.1 L457.07,1273.07 L460.04,1275.06 L463.01,1277.07 L465.97,1279.1 L468.91,1281.15 L471.84,1283.22 L474.75,1285.3 L477.66,1287.4 L480.55,1289.52 L483.44,1291.65 L486.3,1293.8 L489.16,1295.97 L492.01,1298.16 L494.84,1300.36 L497.66,1302.58 L500.47,1304.81 L503.26,1307.06 L506.04,1309.33 L508.82,1311.61 L511.57,1313.91 L514.32,1316.22 L517.05,1318.55 L519.78,1320.89 L522.49,1323.25 L525.18,1325.62 L527.87,1328.01 L530.54,1330.41 L533.2,1332.82 L535.85,1335.25 L538.48,1337.69 L541.11,1340.15 L543.72,1342.61 L546.32,1345.1 L548.9,1347.59 L551.47,1350.1 L554.04,1352.62 L556.58,1355.15 L559.12,1357.69 L561.64,1360.25 L564.15,1362.82 L566.65,1365.39 L569.14,1367.99 L571.61,1370.59 L574.07,1373.2 L576.52,1375.82 L578.96,1378.46 L581.38,1381.1 L583.79,1383.76 L586.19,1386.42 L588.58,1389.1 L590.95,1391.79" fill="none" stroke-width="2.6" stroke-dasharray="11,9"/>
<line x1="840.5" y1="1081" x2="840.5" y2="1448.3" stroke-width="1.15"/>
<line x1="927.5" y1="1081" x2="927.5" y2="1448.3" stroke-width="1.15"/>
<line x1="1019.5" y1="1081" x2="1019.5" y2="1448.3" stroke-width="1.15"/>
<line x1="748.8" y1="1083.5" x2="1109.5" y2="1083.5" stroke-width="1.15"/>
<line x1="748.8" y1="1085.5" x2="1109.5" y2="1085.5" stroke-width="1.15"/>
<line x1="748.8" y1="1089.5" x2="1109.5" y2="1089.5" stroke-width="1.15"/>
<line x1="748.8" y1="1093.5" x2="1109.5" y2="1093.5" stroke-width="1.15"/>
<line x1="748.8" y1="1098.5" x2="1109.5" y2="1098.5" stroke-width="1.15"/>
<line x1="748.8" y1="1104.5" x2="1109.5" y2="1104.5" stroke-width="1.15"/>
<line x1="748.8" y1="1110.5" x2="1109.5" y2="1110.5" stroke-width="1.15"/>
<line x1="748.8" y1="1123.5" x2="1109.5" y2="1123.5" stroke-width="1.15"/>
<line x1="748.8" y1="1142.5" x2="1109.5" y2="1142.5" stroke-width="1.15"/>
<line x1="748.8" y1="1144.5" x2="1109.5" y2="1144.5" stroke-width="1.15"/>
<line x1="748.8" y1="1146.5" x2="1109.5" y2="1146.5" stroke-width="1.15"/>
<line x1="748.8" y1="1150.5" x2="1109.5" y2="1150.5" stroke-width="1.15"/>
<line x1="748.8" y1="1154.5" x2="1109.5" y2="1154.5" stroke-width="1.15"/>
<line x1="748.8" y1="1159.5" x2="1109.5" y2="1159.5" stroke-width="1.15"/>
<line x1="748.8" y1="1164.5" x2="1109.5" y2="1164.5" stroke-width="1.15"/>
<line x1="748.8" y1="1171" x2="1109.5" y2="1171" stroke-width="1.9" stroke="#0c0a0b"/>
<line x1="748.8" y1="1184.5" x2="1109.5" y2="1184.5" stroke-width="1.15"/>
<line x1="748.8" y1="1203.5" x2="1109.5" y2="1203.5" stroke-width="1.15"/>
<line x1="748.8" y1="1206.5" x2="1109.5" y2="1206.5" stroke-width="1.15"/>
<line x1="748.8" y1="1208.5" x2="1109.5" y2="1208.5" stroke-width="1.15"/>
<line x1="748.8" y1="1212" x2="1109.5" y2="1212" stroke-width="1.9" stroke="#0c0a0b"/>
<line x1="748.8" y1="1216.5" x2="1109.5" y2="1216.5" stroke-width="1.15"/>
<line x1="748.8" y1="1221.5" x2="1109.5" y2="1221.5" stroke-width="1.15"/>
<line x1="748.8" y1="1226.5" x2="1109.5" y2="1226.5" stroke-width="1.15"/>
<line x1="748.8" y1="1232.5" x2="1109.5" y2="1232.5" stroke-width="1.15"/>
<line x1="748.8" y1="1246.5" x2="1109.5" y2="1246.5" stroke-width="1.15"/>
<line x1="748.8" y1="1265.5" x2="1109.5" y2="1265.5" stroke-width="1.15"/>
<line x1="748.8" y1="1267.5" x2="1109.5" y2="1267.5" stroke-width="1.15"/>
<line x1="748.8" y1="1269.5" x2="1109.5" y2="1269.5" stroke-width="1.15"/>
<line x1="748.8" y1="1272.5" x2="1109.5" y2="1272.5" stroke-width="1.15"/>
<line x1="748.8" y1="1277" x2="1109.5" y2="1277" stroke-width="1.9" stroke="#0c0a0b"/>
<line x1="748.8" y1="1282.5" x2="1109.5" y2="1282.5" stroke-width="1.15"/>
<line x1="748.8" y1="1287.5" x2="1109.5" y2="1287.5" stroke-width="1.15"/>
<line x1="748.8" y1="1293.5" x2="1109.5" y2="1293.5" stroke-width="1.15"/>
<line x1="748.8" y1="1307.5" x2="1109.5" y2="1307.5" stroke-width="1.15"/>
<line x1="748.8" y1="1326.5" x2="1109.5" y2="1326.5" stroke-width="1.15"/>
<line x1="748.8" y1="1328.5" x2="1109.5" y2="1328.5" stroke-width="1.15"/>
<line x1="748.8" y1="1330.5" x2="1109.5" y2="1330.5" stroke-width="1.15"/>
<line x1="748.8" y1="1333.5" x2="1109.5" y2="1333.5" stroke-width="1.15"/>
<line x1="748.8" y1="1338.5" x2="1109.5" y2="1338.5" stroke-width="1.15"/>
<line x1="748.8" y1="1343" x2="1109.5" y2="1343" stroke-width="1.9" stroke="#0c0a0b"/>
<line x1="748.8" y1="1348.5" x2="1109.5" y2="1348.5" stroke-width="1.15"/>
<line x1="748.8" y1="1356.5" x2="1109.5" y2="1356.5" stroke-width="1.15"/>
<line x1="748.8" y1="1368.5" x2="1109.5" y2="1368.5" stroke-width="1.15"/>
<line x1="748.8" y1="1387.5" x2="1109.5" y2="1387.5" stroke-width="1.15"/>
<line x1="748.8" y1="1389.5" x2="1109.5" y2="1389.5" stroke-width="1.15"/>
<line x1="748.8" y1="1391.5" x2="1109.5" y2="1391.5" stroke-width="1.15"/>
<line x1="748.8" y1="1394.5" x2="1109.5" y2="1394.5" stroke-width="1.15"/>
<line x1="748.8" y1="1398.5" x2="1109.5" y2="1398.5" stroke-width="1.15"/>
<line x1="748.8" y1="1403.5" x2="1109.5" y2="1403.5" stroke-width="1.15"/>
<line x1="748.8" y1="1409.5" x2="1109.5" y2="1409.5" stroke-width="1.15"/>
<line x1="748.8" y1="1417.5" x2="1109.5" y2="1417.5" stroke-width="1.15"/>
<line x1="748.8" y1="1429.5" x2="1109.5" y2="1429.5" stroke-width="1.15"/>
<rect x="973.7" y="1144" width="78.2" height="28.6" fill="#fff" stroke="none"/>
<rect x="979" y="1223.4" width="75.2" height="22" fill="#fff" stroke="none"/>
<rect x="1000.1" y="1322.7" width="67.8" height="26.8" fill="#fff" stroke="none"/>
<rect x="1020.5" y="1411" width="71.4" height="36" fill="#fff" stroke="none"/>
<rect x="748.5" y="1081.5" width="361" height="367" fill="none" stroke-width="1.15"/>
<path d="M748.8,1159.3 L1108.8,1114.5" fill="none" stroke-width="2.6"/>
<path d="M748.8,1246.4 L1108.8,1185.1" fill="none" stroke-width="2.6"/>
<path d="M750,1354.3 L1108.8,1287.4" fill="none" stroke-width="2.6"/>
<path d="M750,1442.2 L1108.8,1394.7" fill="none" stroke-width="2.6"/>
</g>
<g fill="#231f20" stroke="none">
<text transform="translate(118.2,62.9) scale(1.35,1)" x="0" y="0" font-size="7.6" font-weight="bold" text-anchor="middle" stroke="#000" stroke-width="0.45" fill="#000">I</text>
<text transform="translate(134.9,62.9) scale(1.35,1)" x="0" y="0" font-size="7.6" font-weight="bold" text-anchor="middle" stroke="#000" stroke-width="0.45" fill="#000">N</text>
<text transform="translate(152.7,62.9) scale(1.35,1)" x="0" y="0" font-size="7.6" font-weight="bold" text-anchor="middle" stroke="#000" stroke-width="0.45" fill="#000">C</text>
<text transform="translate(170.7,62.9) scale(1.35,1)" x="0" y="0" font-size="7.6" font-weight="bold" text-anchor="middle" stroke="#000" stroke-width="0.45" fill="#000">O</text>
<text transform="translate(189,62.9) scale(1.35,1)" x="0" y="0" font-size="7.6" font-weight="bold" text-anchor="middle" stroke="#000" stroke-width="0.45" fill="#000">R</text>
<text transform="translate(207.1,62.9) scale(1.35,1)" x="0" y="0" font-size="7.6" font-weight="bold" text-anchor="middle" stroke="#000" stroke-width="0.45" fill="#000">P</text>
<text transform="translate(225.5,62.9) scale(1.35,1)" x="0" y="0" font-size="7.6" font-weight="bold" text-anchor="middle" stroke="#000" stroke-width="0.45" fill="#000">O</text>
<text transform="translate(244,62.9) scale(1.35,1)" x="0" y="0" font-size="7.6" font-weight="bold" text-anchor="middle" stroke="#000" stroke-width="0.45" fill="#000">R</text>
<text transform="translate(262.3,62.9) scale(1.35,1)" x="0" y="0" font-size="7.6" font-weight="bold" text-anchor="middle" stroke="#000" stroke-width="0.45" fill="#000">A</text>
<text transform="translate(280.1,62.9) scale(1.35,1)" x="0" y="0" font-size="7.6" font-weight="bold" text-anchor="middle" stroke="#000" stroke-width="0.45" fill="#000">T</text>
<text transform="translate(297.8,62.9) scale(1.35,1)" x="0" y="0" font-size="7.6" font-weight="bold" text-anchor="middle" stroke="#000" stroke-width="0.45" fill="#000">E</text>
<text transform="translate(315.5,62.9) scale(1.35,1)" x="0" y="0" font-size="7.6" font-weight="bold" text-anchor="middle" stroke="#000" stroke-width="0.45" fill="#000">D</text>
<text x="324" y="51.7" font-size="3.9" font-weight="bold" text-anchor="middle" fill="#000">TM</text>
<text x="251.6" y="369.6"><tspan font-size="13.05">Resistive or Inductive Load</tspan></text>
<text x="252.6" y="383.4"><tspan font-size="12.96">0.375” (9.5mm) lead length</tspan></text>
<text x="324.3" y="398.3"><tspan font-size="12.93">SB120 - SB140</tspan></text>
<text x="324.3" y="412.4"><tspan font-size="12.96">SB150 &amp; SB160</tspan></text>
<text x="184.75" y="154.2"><tspan font-size="16.8">1.0</tspan></text>
<text x="183.15" y="299.3"><tspan font-size="16.8">0.5</tspan></text>
<text x="195.66" y="437.8"><tspan font-size="16.8">0</tspan></text>
<text x="221.96" y="464"><tspan font-size="16.8">25</tspan></text>
<text x="292.76" y="464"><tspan font-size="16.8">50</tspan></text>
<text x="362.66" y="464"><tspan font-size="16.8">75</tspan></text>
<text x="431.39" y="464"><tspan font-size="16.8">100</tspan></text>
<text x="503.29" y="464"><tspan font-size="16.8">125</tspan></text>
<text x="576.29" y="464"><tspan font-size="16.8">150</tspan></text>
<text transform="translate(166.6,433) rotate(-90)" x="0" y="0"><tspan font-size="17.44">I</tspan><tspan font-size="12.9" dy="5.93">(O)</tspan><tspan font-size="17.44" dy="-5.93">, AVERAGE FORWARD CURRENT (A)</tspan></text>
<text x="284" y="503.2"><tspan font-size="17.23">T</tspan><tspan font-size="12.75" dy="5.86">L</tspan><tspan font-size="17.23" dy="-5.86">,  LEAD TEMPERATURE (°C)</tspan></text>
<text x="257" y="526.3"><tspan font-size="17.3">Fig. 1  Forward Current Derating Curve</tspan></text>
<text x="765.9" y="143.9"><tspan font-size="12.98">T</tspan><tspan font-size="9.6" dy="4.41">j</tspan><tspan font-size="12.98" dy="-4.41"> = +125°C</tspan></text>
<text x="746" y="223.6"><tspan font-size="13.04">T</tspan><tspan font-size="9.65" dy="4.43">j</tspan><tspan font-size="13.04" dy="-4.43"> = +75°C</tspan></text>
<text x="908.8" y="242.9"><tspan font-size="12.72">T</tspan><tspan font-size="9.41" dy="4.32">j</tspan><tspan font-size="12.72" dy="-4.32"> = +25°C</tspan></text>
<text x="911.3" y="288.8"><tspan font-size="12.69">T</tspan><tspan font-size="9.39" dy="4.32">j</tspan><tspan font-size="12.69" dy="-4.32"> = -25°C</tspan></text>
<text x="949.5" y="404"><tspan font-size="13.04">1% Duty Cycle</tspan></text>
<text x="951" y="421.4"><tspan font-size="12.95">I</tspan><tspan font-size="9.58" dy="4.4">F</tspan><tspan font-size="12.95" dy="-4.4"> Pulse Width = 300μs</tspan></text>
<text x="704.55" y="87.3"><tspan font-size="16.5">10</tspan></text>
<text x="699.97" y="261.8"><tspan font-size="16.5">1.0</tspan></text>
<text x="699.07" y="440.8"><tspan font-size="16.5">0.1</tspan></text>
<text x="728.63" y="463"><tspan font-size="16.5">0.2</tspan></text>
<text x="802.03" y="463"><tspan font-size="16.5">0.4</tspan></text>
<text x="872.63" y="463"><tspan font-size="16.5">0.6</tspan></text>
<text x="948.53" y="463"><tspan font-size="16.5">0.8</tspan></text>
<text x="1022.03" y="463"><tspan font-size="16.5">1.0</tspan></text>
<text x="1090.33" y="463"><tspan font-size="16.5">1.2</tspan></text>
<text transform="translate(672.3,421) rotate(-90)" x="0" y="0"><tspan font-size="17.41">I</tspan><tspan font-size="12.89" dy="5.92">F</tspan><tspan font-size="17.41" dy="-5.92">, INSTANTANEOUS FWD CURRENT (A)</tspan></text>
<text x="737" y="501.6"><tspan font-size="17.05">V</tspan><tspan font-size="12.62" dy="5.8">F</tspan><tspan font-size="17.05" dy="-5.8">, INSTANTANEOUS FORWARD VOLTAGE (V)</tspan></text>
<text x="700" y="524.3"><tspan font-size="17.24">Fig. 2  Typical Forward Characteristics - SB120 thru SB140</tspan></text>
<text x="267.5" y="737.3"><tspan font-size="12.09">T</tspan><tspan font-size="8.95" dy="4.11">j</tspan><tspan font-size="12.09" dy="-4.11"> = +125°C</tspan></text>
<text x="401.6" y="798.8"><tspan font-size="11.88">T</tspan><tspan font-size="8.79" dy="4.04">j</tspan><tspan font-size="11.88" dy="-4.04"> = +25°C</tspan></text>
<text x="445.5" y="921.8"><tspan font-size="12.05">1% Duty Cycle</tspan></text>
<text x="445.3" y="940.5"><tspan font-size="12.2">I</tspan><tspan font-size="9.03" dy="4.15">F</tspan><tspan font-size="12.2" dy="-4.15"> Pulse Width = 300 μs</tspan></text>
<text x="185.05" y="600.1"><tspan font-size="15.6">10</tspan></text>
<text x="180.72" y="721.8"><tspan font-size="15.6">1.0</tspan></text>
<text x="181.82" y="840"><tspan font-size="15.6">0.1</tspan></text>
<text x="174.34" y="955.8"><tspan font-size="15.6">0.01</tspan></text>
<text x="220.76" y="980"><tspan font-size="15.6">0</tspan></text>
<text x="287.26" y="980"><tspan font-size="15.6">0.2</tspan></text>
<text x="356.16" y="980"><tspan font-size="15.6">0.4</tspan></text>
<text x="432.26" y="980"><tspan font-size="15.6">0.6</tspan></text>
<text x="501.16" y="980"><tspan font-size="15.6">0.8</tspan></text>
<text x="565.16" y="980"><tspan font-size="15.6">1.0</tspan></text>
<text transform="translate(157.5,947) rotate(-90)" x="0" y="0"><tspan font-size="16.07">I</tspan><tspan font-size="11.89" dy="5.46">F</tspan><tspan font-size="16.07" dy="-5.46">, INSTANTANEOUS FORWARD CURRENT (A)</tspan></text>
<text x="254" y="1016.4"><tspan font-size="15.91">V</tspan><tspan font-size="11.77" dy="5.41">F</tspan><tspan font-size="15.91" dy="-5.41">, INSTANTANEOUS FWD VOLTAGE (V)</tspan></text>
<text x="206" y="1038.6"><tspan font-size="16.08">Fig. 3  Typ. Forward Characteristics - SB150 thru SB160</tspan></text>
<text x="935.3" y="619.7"><tspan font-size="13.13">8.3ms Single Half Sine-Wave</tspan></text>
<text x="970.8" y="633.5"><tspan font-size="13.22">(JEDEC Method)</tspan></text>
<text x="990.1" y="655.9"><tspan font-size="14.14">T</tspan><tspan font-size="10.46" dy="4.81">j</tspan><tspan font-size="14.14" dy="-4.81"> = T</tspan><tspan font-size="10.46" dy="4.81">j(max)</tspan></text>
<text x="712.65" y="597.7"><tspan font-size="16.5">40</tspan></text>
<text x="712.65" y="686.4"><tspan font-size="16.5">30</tspan></text>
<text x="712.65" y="780.4"><tspan font-size="16.5">20</tspan></text>
<text x="712.65" y="870.7"><tspan font-size="16.5">10</tspan></text>
<text x="719.93" y="955.8"><tspan font-size="16.5">0</tspan></text>
<text x="749.11" y="981.8"><tspan font-size="16.5">1</tspan></text>
<text x="927.33" y="981.8"><tspan font-size="16.5">10</tspan></text>
<text x="1102.74" y="981.8"><tspan font-size="16.5">100</tspan></text>
<text transform="translate(694.3,959) rotate(-90)" x="0" y="0"><tspan font-size="17.49">I</tspan><tspan font-size="12.94" dy="5.95">FSM</tspan><tspan font-size="17.49" dy="-5.95">, PEAK FORWARD SURGE CURRENT (A)</tspan></text>
<text x="800" y="1017.1"><tspan font-size="17.36">NUMBER OF CYCLES AT 60 Hz</tspan></text>
<text x="726" y="1035.8"><tspan font-size="17.43">Fig. 4  Max Non-Repetitive Peak Fwd Surge Current</tspan></text>
<text x="495" y="1119.4"><tspan font-size="13.53">T</tspan><tspan font-size="10.01" dy="4.6">j</tspan><tspan font-size="13.53" dy="-4.6"> = 25°C</tspan></text>
<text x="492.7" y="1136.7"><tspan font-size="13">f = 1.0MHz</tspan></text>
<text x="477.4" y="1151.9"><tspan font-size="13.07">V</tspan><tspan font-size="9.67" dy="4.44">sig</tspan><tspan font-size="13.07" dy="-4.44"> = 50m Vp-p</tspan></text>
<text x="423.9" y="1226.5"><tspan font-size="13.06">SB120 - SB140</tspan></text>
<text x="240.1" y="1261"><tspan font-size="13.1">SB150 - SB160</tspan></text>
<text x="175.75" y="1088.9"><tspan font-size="16.2">1000</tspan></text>
<text x="180.08" y="1268.5"><tspan font-size="16.2">100</tspan></text>
<text x="187.89" y="1447"><tspan font-size="16.2">10</tspan></text>
<text x="224.54" y="1470.7"><tspan font-size="16.2">0.1</tspan></text>
<text x="344.9" y="1470.7"><tspan font-size="16.2">1</tspan></text>
<text x="462.99" y="1470.7"><tspan font-size="16.2">10</tspan></text>
<text x="577.59" y="1470.7"><tspan font-size="16.2">100</tspan></text>
<text transform="translate(158.6,1384) rotate(-90)" x="0" y="0"><tspan font-size="16.96">C</tspan><tspan font-size="12.55" dy="5.76">T</tspan><tspan font-size="16.96" dy="-5.76">, TOTAL CAPACITANCE (pF)</tspan></text>
<text x="294" y="1503.1"><tspan font-size="17.15">V</tspan><tspan font-size="12.69" dy="5.83">R</tspan><tspan font-size="17.15" dy="-5.83">, REVERSE VOLTAGE (V)</tspan></text>
<text x="282" y="1527.7"><tspan font-size="17.06">Fig. 5  Typical Total Capacitance</tspan></text>
<text x="974.5" y="1163.2"><tspan font-size="12.93">T</tspan><tspan font-size="9.57" dy="4.4">j</tspan><tspan font-size="12.93" dy="-4.4"> = +125°C</tspan></text>
<text x="985.1" y="1238.7"><tspan font-size="12.73">T</tspan><tspan font-size="9.42" dy="4.33">j</tspan><tspan font-size="12.73" dy="-4.33"> = +75°C</tspan></text>
<text x="1000.2" y="1340.4"><tspan font-size="13.04">T</tspan><tspan font-size="9.65" dy="4.43">j</tspan><tspan font-size="13.04" dy="-4.43"> = +25°C</tspan></text>
<text x="1026.4" y="1432.9"><tspan font-size="12.23">T</tspan><tspan font-size="9.05" dy="4.16">j</tspan><tspan font-size="12.23" dy="-4.16"> = -25°C</tspan></text>
<text x="684.07" y="1088.9"><tspan font-size="15.8">10,000</tspan></text>
<text x="699.14" y="1147.3"><tspan font-size="15.8">1000</tspan></text>
<text x="707.95" y="1209"><tspan font-size="15.8">100</tspan></text>
<text x="714.43" y="1269.7"><tspan font-size="15.8">10</tspan></text>
<text x="721.82" y="1332.3"><tspan font-size="15.8">1</tspan></text>
<text x="711.64" y="1389.8"><tspan font-size="15.8">0.1</tspan></text>
<text x="702.85" y="1450.5"><tspan font-size="15.8">0.01</tspan></text>
<text x="743.21" y="1473.7"><tspan font-size="15.8">0</tspan></text>
<text x="831.62" y="1473.7"><tspan font-size="15.8">25</tspan></text>
<text x="920.82" y="1473.7"><tspan font-size="15.8">50</tspan></text>
<text x="1012.52" y="1473.7"><tspan font-size="15.8">75</tspan></text>
<text x="1097.82" y="1473.7"><tspan font-size="15.8">100</tspan></text>
<text transform="translate(666.7,1447) rotate(-90)" x="0" y="0"><tspan font-size="16.28">I</tspan><tspan font-size="12.05" dy="5.54">R</tspan><tspan font-size="16.28" dy="-5.54">, INSTANTANEOUS REVERSE CURRENT (μA)</tspan></text>
<text x="745" y="1508.8"><tspan font-size="16.27">PERCENTAGE OF PEAK REVERSE VOLTAGE (%)</tspan></text>
<text x="722" y="1527.5"><tspan font-size="16.38">Fig. 6  Typical Reverse Characteristics, SB120 thru SB140</tspan></text>
<text x="109" y="1592.8"><tspan font-size="19.87">DS23022 Rev. 5 - 2</tspan></text>
<text x="609" y="1592.8"><tspan font-size="20.43">2 of 3</tspan></text>
<text x="1033" y="1592.9"><tspan font-size="20.05">SB120-SB160</tspan></text>
<text x="558.06" y="1620.8" font-weight="bold"><tspan font-size="19.55">www.diodes.com</tspan></text>
</g>
</svg>
</body></html>
